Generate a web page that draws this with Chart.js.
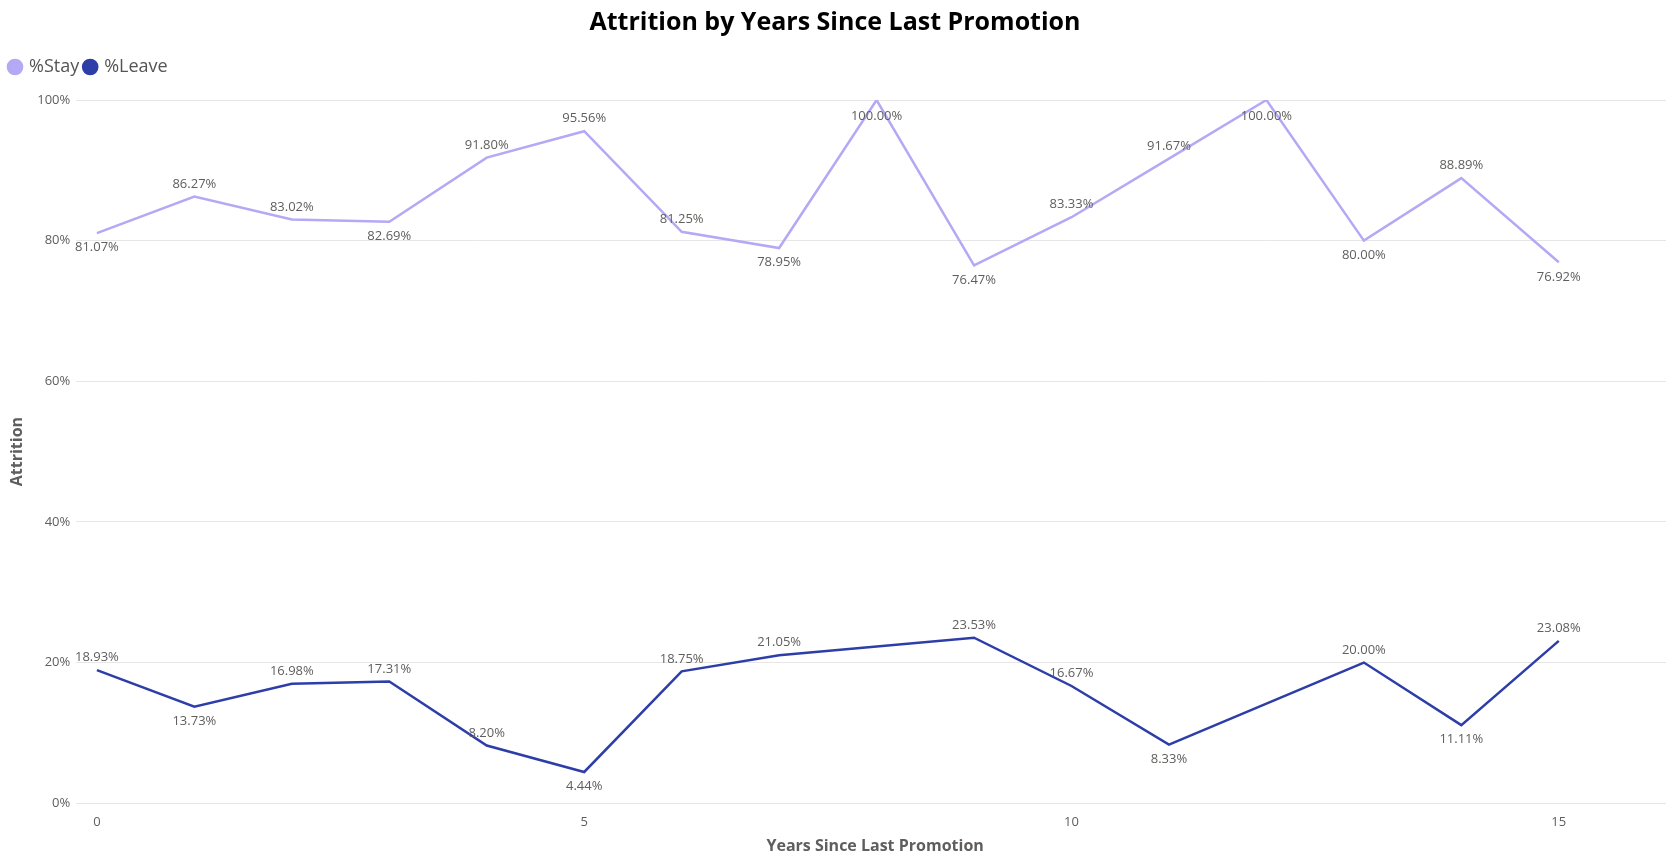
<!DOCTYPE html>
<html><head><meta charset="utf-8">
<script src="https://cdn.jsdelivr.net/npm/chart.js@4"></script>
<style>html,body{margin:0;padding:0;background:#fff}#w{width:1666px;height:864px}</style>
</head><body><div id="w"><canvas id="c"></canvas></div>
<script>
const years = [0,1,2,3,4,5,6,7,8,9,10,11,12,13,14,15];
const stayPct = [81.07,86.27,83.02,82.69,91.80,95.56,81.25,78.95,100.00,76.47,83.33,91.67,100.00,80.00,88.89,76.92];
const leavePct = [18.93,13.73,16.98,17.31,8.20,4.44,18.75,21.05,null,23.53,16.67,8.33,null,20.00,11.11,23.08];
const xTicks = [0,5,10,15];
const yTicks = [0,20,40,60,80,100];

const FONT = "'Open Sans', 'DejaVu Sans', sans-serif";
const toPts = arr => years.map((y,i)=>({x:y,y:arr[i]}));

const labelPlugin = {
  id:'lbls',
  afterDatasetsDraw(chart){
    const ctx = chart.ctx;
    const top = chart.chartArea.top;
    ctx.save();
    ctx.font = "13px " + FONT;
    ctx.fillStyle = '#605E5C';
    ctx.textAlign = 'center';
    chart.data.datasets.forEach((ds,di)=>{
      const meta = chart.getDatasetMeta(di);
      const vals = ds.data.map(p=>p.y);
      meta.data.forEach((el,i)=>{
        const v = vals[i]; if (v==null) return;
        let prev=null,next=null;
        for(let j=i-1;j>=0;j--) if(vals[j]!=null){prev=vals[j];break;}
        for(let j=i+1;j<vals.length;j++) if(vals[j]!=null){next=vals[j];break;}
        const isMin = (prev==null||v<prev)&&(next==null||v<next);
        const t = v.toFixed(2)+'%';
        if (isMin) { ctx.textBaseline='top'; ctx.fillText(t, el.x, el.y+8); }
        else {
          let yb = el.y - 6;
          ctx.textBaseline='bottom';
          if (yb - 16 < top) { yb = top + 23; }
          ctx.fillText(t, el.x, yb);
        }
      });
    });
    ctx.restore();
  }
};

new Chart(document.getElementById('c'),{
  type:'line',
  data:{datasets:[
    {label:'%Stay',data:toPts(stayPct),borderColor:'#B3A9F5',backgroundColor:'#B3A9F5',borderWidth:2.5,pointRadius:0,spanGaps:true,tension:0},
    {label:'%Leave',data:toPts(leavePct),borderColor:'#2E3EA8',backgroundColor:'#2E3EA8',borderWidth:2.5,pointRadius:0,spanGaps:true,tension:0}
  ]},
  options:{
    responsive:true,maintainAspectRatio:false,animation:false,
    layout:{padding:{left:4,right:0,top:0,bottom:4}},
    plugins:{
      title:{display:true,text:'Attrition by Years Since Last Promotion',font:{family:FONT,size:25,weight:'bold'},color:'#000',padding:{top:8,bottom:14}},
      legend:{display:true,align:'start',labels:{usePointStyle:true,pointStyle:'circle',boxWidth:10,boxHeight:10,padding:6,font:{family:FONT,size:18},color:'#555'}},
      tooltip:{enabled:false}
    },
    scales:{
      x:{type:'linear',min:-0.13,max:16.1,
        afterBuildTicks:ax=>{ax.ticks=xTicks.map(v=>({value:v}));},
        grid:{display:false},border:{display:true,color:'#E6E6E6'},
        ticks:{font:{family:FONT,size:13},color:'#605E5C'},
        title:{display:true,text:'Years Since Last Promotion',font:{family:FONT,size:16,weight:'bold'},color:'#605E5C'}},
      y:{min:0,max:100,
        afterBuildTicks:ax=>{ax.ticks=yTicks.map(v=>({value:v}));},
        grid:{color:'#E6E6E6'},border:{display:false},
        ticks:{font:{family:FONT,size:13},color:'#605E5C',callback:v=>v+'%',padding:6},
        title:{display:true,text:'Attrition',font:{family:FONT,size:16,weight:'bold'},color:'#605E5C'}}
    }
  },
  plugins:[labelPlugin,{id:'legPad',beforeInit(chart){const l=chart.legend;}},{
    id:'legSpace',
    afterInit(chart){
      const orig = chart.legend.fit;
      chart.legend.fit = function(){ orig.call(this); this.height += 14; };
    }
  }]
});
</script></body></html>
